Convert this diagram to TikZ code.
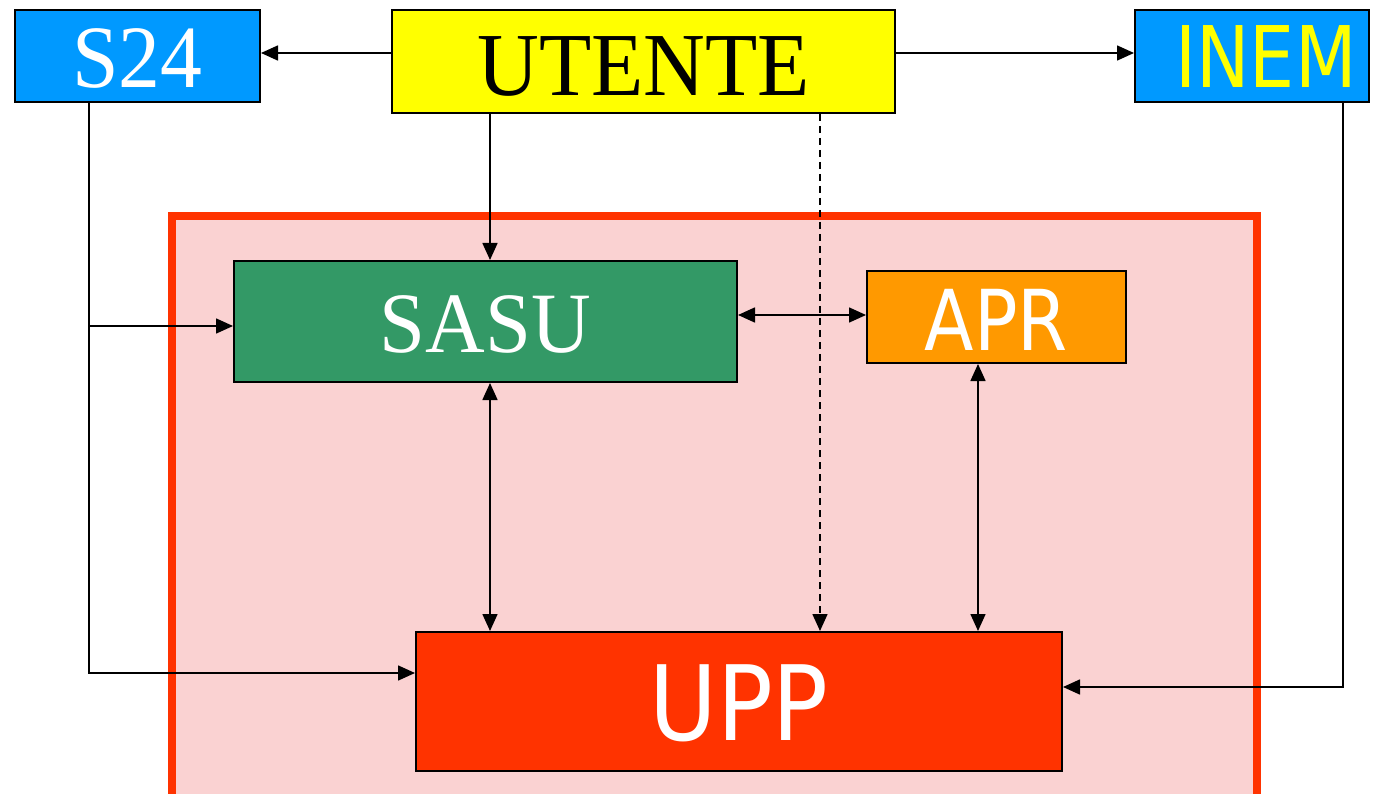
\documentclass[tikz,border=0pt]{standalone}
\usepackage{fontspec}
\usetikzlibrary{arrows.meta,calc}
\newfontfamily\serifF{Liberation Serif}
\newfontfamily\sansF{DejaVu Sans}
\definecolor{bluebox}{RGB}{0,153,255}
\definecolor{yellowbox}{RGB}{255,255,0}
\definecolor{greenbox}{RGB}{51,153,102}
\definecolor{orangebox}{RGB}{255,153,0}
\definecolor{redbox}{RGB}{255,51,0}
\definecolor{pinkbg}{RGB}{250,210,210}
\tikzset{
  box/.style={draw=black, line width=2pt, inner sep=0pt, anchor=north west},
  arr/.style={line width=1.6pt, -{Triangle[length=17pt,width=15pt]}},
  dbl/.style={line width=1.6pt, {Triangle[length=17pt,width=15pt]}-{Triangle[length=17pt,width=15pt]}},
}
\begin{document}
\begin{tikzpicture}[x=1pt,y=-1pt]
\useasboundingbox (0,0) rectangle (1382,794);
% outer region
\draw[line width=8pt, draw=redbox, fill=pinkbg] (172,216) rectangle (1257,810);
% boxes
\node[box, fill=bluebox, minimum width=245pt, minimum height=92pt] (s24) at (14,9) {};
\node[text=white, font=\serifF\fontsize{89}{89}\selectfont] at ($(s24.center)+(0,2)$) {\scalebox{0.94}[1]{S24}};
\node[box, fill=yellowbox, minimum width=503pt, minimum height=103pt] (utente) at (391,9) {};
\node[text=black, font=\serifF\fontsize{90}{90}\selectfont] at ($(utente.center)+(0,4.5)$) {\scalebox{0.95}[1]{UTENTE}};
\node[box, fill=bluebox, minimum width=234pt, minimum height=92pt] (inem) at (1134,9) {};
\node[text=yellowbox, font=\sansF\fontsize{85}{85}\selectfont] at ($(inem.center)+(14,1)$) {\scalebox{0.84}[1]{INEM}};
\node[box, fill=greenbox, minimum width=503pt, minimum height=121pt] (sasu) at (233,260) {};
\node[text=white, font=\serifF\fontsize{86}{86}\selectfont] at ($(sasu.center)+(0,3)$) {\scalebox{0.96}[1]{SASU}};
\node[box, fill=orangebox, minimum width=259pt, minimum height=92pt] (apr) at (866,270) {};
\node[text=white, font=\sansF\fontsize{84}{84}\selectfont] at ($(apr.center)+(0,2.5)$) {\scalebox{0.86}[1]{APR}};
\node[box, fill=redbox, minimum width=646pt, minimum height=139pt] (upp) at (415,631) {};
\node[text=white, font=\sansF\fontsize{104}{104}\selectfont] at ($(upp.center)+(0,1.5)$) {\scalebox{0.89}[1]{UPP}};
% helper coordinates
\coordinate (sasuTop) at ($(sasu.north)+(4.5,0)$);
\coordinate (sasuBot) at ($(sasu.south)+(4.5,0)$);
\coordinate (dashX) at ($(upp.north)+(81,0)$);
\coordinate (aprBot) at ($(apr.south)+(-18.5,0)$);
\coordinate (inemDown) at ($(inem.south)+(91,0)$);
\coordinate (uppInR) at ($(upp.east)+(0,-14.5)$);
\coordinate (s24Down) at ($(s24.south)+(-48.5,0)$);
\coordinate (uppInL) at ($(upp.west)+(0,-28.5)$);
\coordinate (sasuIn) at ($(sasu.west)+(0,4.5)$);
\coordinate (s24In) at ($(s24.east)+(0,-3)$);
\coordinate (inemIn) at ($(inem.west)+(0,-3)$);
\coordinate (aprIn) at ($(apr.west)+(0,-2)$);
% connectors
\draw[arr] (s24In -| utente.west) -- (s24In);
\draw[arr] (inemIn -| utente.east) -- (inemIn);
\draw[arr] (sasuTop |- utente.south) -- (sasuTop);
\draw[arr, dash pattern=on 7pt off 5pt] (dashX |- utente.south) -- (dashX);
\draw[arr] (s24Down) |- (uppInL);
\draw[arr] (s24Down |- sasuIn) -- (sasuIn);
\draw[dbl] (aprIn -| sasu.east) -- (aprIn);
\draw[dbl] (sasuBot) -- (sasuBot |- upp.north);
\draw[dbl] (aprBot) -- (aprBot |- upp.north);
\draw[arr] (inemDown) |- (uppInR);
\end{tikzpicture}
\end{document}
